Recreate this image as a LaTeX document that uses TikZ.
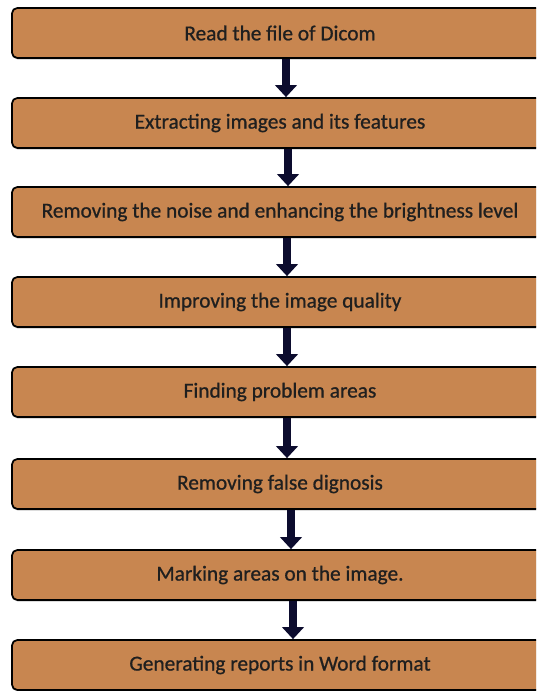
\documentclass[tikz,border=0pt]{standalone}
\usepackage{fontspec}
\setmainfont{Carlito}
\newfontfamily\boxfont[FakeBold=0.8]{Carlito}
\usetikzlibrary{arrows.meta,shadows}
\definecolor{boxfill}{RGB}{200,134,80}
\definecolor{arrowcol}{RGB}{12,12,46}
\tikzset{
  stepbox/.style={draw=black, line width=1.3pt, fill=boxfill, rounded corners=4pt,
    minimum width=402pt, minimum height=37.5pt, inner sep=0pt,
    font=\boxfont\fontsize{16}{18}\selectfont, text=black!88,
    drop shadow={shadow xshift=0.4pt, shadow yshift=-1.2pt, fill=black!35, opacity=0.6}},
  flow/.style={draw=arrowcol, line width=6.5pt, -{Triangle[width=16pt,length=9pt]}, arrowcol}
}
\begin{document}
\begin{tikzpicture}[x=0.75pt,y=-0.75pt]
\useasboundingbox (0,0) rectangle (536,691);
\clip (0,0) rectangle (536,691);
\node[stepbox] (b1) at (280,33) {Read the file of Dicom};
\node[stepbox] (b2) at (280,123) {Extracting images and its features};
\node[stepbox] (b3) at (280,212) {Removing the noise and enhancing the brightness level};
\node[stepbox] (b4) at (280,302) {Improving the image quality};
\node[stepbox] (b5) at (280,392) {Finding problem areas};
\node[stepbox] (b6) at (280,484) {Removing false dignosis};
\node[stepbox] (b7) at (280,575) {Marking areas on the image.};
\node[stepbox] (b8) at (280,665) {Generating reports in Word format};
\draw[flow] ([xshift=4.5pt]b1.south) -- ([xshift=4.5pt]b2.north);
\draw[flow] ([xshift=6pt]b2.south) -- ([xshift=6pt]b3.north);
\draw[flow] ([xshift=5.25pt]b3.south) -- ([xshift=5.25pt]b4.north);
\draw[flow] ([xshift=5.25pt]b4.south) -- ([xshift=5.25pt]b5.north);
\draw[flow] ([xshift=5.25pt]b5.south) -- ([xshift=5.25pt]b6.north);
\draw[flow] ([xshift=8.25pt]b6.south) -- ([xshift=8.25pt]b7.north);
\draw[flow] ([xshift=9.75pt]b7.south) -- ([xshift=9.75pt]b8.north);
\end{tikzpicture}
\end{document}
